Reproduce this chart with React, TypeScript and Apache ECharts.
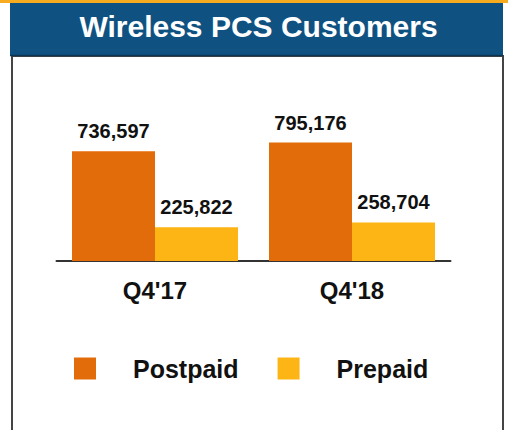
import React, { useEffect, useRef } from "react";
import * as echarts from "echarts";

const categories = ["Q4'17", "Q4'18"];
const postpaid = [736597, 795176];
const prepaid = [225822, 258704];
const seriesNames = ["Postpaid", "Prepaid"];
const titleText = "Wireless PCS Customers";

const FONT = "Arial, 'Liberation Sans', Helvetica, sans-serif";

export default function App() {
  const ref = useRef<HTMLDivElement>(null);
  useEffect(() => {
    document.body.style.margin = "0";
    const chart = echarts.init(ref.current!, undefined, { renderer: "svg" });
    const fmt = (p: any) => Number(p.value).toLocaleString("en-US");
    chart.setOption({
      animation: false,
      backgroundColor: "#ffffff",
      graphic: [
        { type: "rect", shape: { x: 0, y: 0, width: 508, height: 3 }, style: { fill: "#f7ab1e" }, z: 0 },
        { type: "rect", shape: { x: 10, y: 3, width: 493, height: 53 }, style: { fill: "#0f5282" }, z: 0 },
        { type: "line", shape: { x1: 10, y1: 55.5, x2: 503, y2: 55.5 }, style: { stroke: "#0a3553", lineWidth: 1.5 }, z: 1 },
        { type: "rect", shape: { x: 12, y: 56, width: 491, height: 390 }, style: { fill: "none", stroke: "#444444", lineWidth: 2 }, z: 0 },
        {
          type: "text",
          x: 258.5,
          y: 26,
          z: 2,
          style: {
            text: titleText,
            fill: "#ffffff",
            font: `bold 30px ${FONT}`,
            align: "center",
            verticalAlign: "middle",
          },
        },
      ],
      legend: {
        data: seriesNames,
        left: 74,
        top: 356,
        padding: 0,
        icon: "rect",
        itemWidth: 22,
        itemHeight: 22,
        itemGap: 39,
        textStyle: { fontSize: 25, fontWeight: "bold", color: "#111", fontFamily: FONT, padding: [0, 0, 0, 32] },
      },
      grid: { left: 56.5, right: 57.5, top: 112, bottom: 169, containLabel: false },
      xAxis: {
        type: "category",
        data: categories,
        axisLine: { lineStyle: { color: "#333333", width: 2 } },
        axisTick: { show: false },
        axisLabel: { fontSize: 24, fontWeight: "bold", color: "#111", fontFamily: FONT, margin: 17 },
      },
      yAxis: { type: "value", min: 0, max: 1000000, show: false, splitLine: { show: false } },
      series: [
        {
          name: seriesNames[0],
          type: "bar",
          data: postpaid,
          barWidth: 83,
          barGap: "0%",
          itemStyle: { color: "#e36c0a" },
          label: { show: true, position: "top", distance: 10, formatter: fmt, fontSize: 20, fontWeight: "bold", color: "#111", fontFamily: FONT },
        },
        {
          name: seriesNames[1],
          type: "bar",
          data: prepaid,
          barWidth: 83,
          barGap: "0%",
          itemStyle: { color: "#fdb515" },
          label: { show: true, position: "top", distance: 10, formatter: fmt, fontSize: 20, fontWeight: "bold", color: "#111", fontFamily: FONT },
        },
      ],
    });
    return () => chart.dispose();
  }, []);
  return <div ref={ref} style={{ width: 508, height: 430, position: "fixed", left: 0, top: 0 }} />;
}
